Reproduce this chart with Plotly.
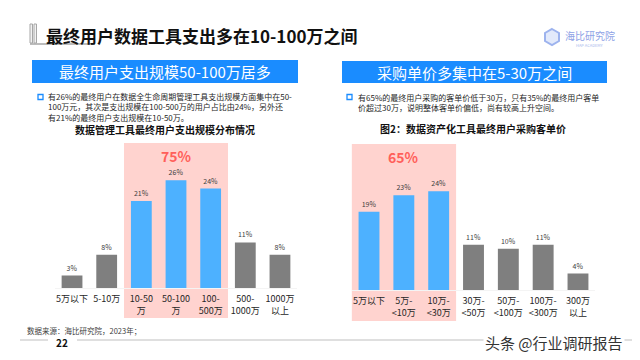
import plotly.graph_objects as go

# ---------------- data ----------------
left_cats = ["5万以下", "5-10万", "10-50<br>万", "50-100<br>万", "100-<br>500万", "500-<br>1000万", "1000万<br>以上"]
left_vals = [3, 8, 21, 26, 24, 11, 8]
left_highlight = [2, 3, 4]
left_total_label = "75%"

right_cats = ["5万以下", "5万-<br>&lt;10万", "10万-<br>&lt;30万", "30万-<br>&lt;50万", "50万-<br>&lt;100万", "100万-<br>&lt;300万", "300万<br>以上"]
right_vals = [19, 23, 24, 11, 10, 11, 4]
right_highlight = [0, 1, 2]
right_total_label = "65%"

title_text = "最终用户数据工具支出多在10-100万之间"
left_banner = "最终用户支出规模50-100万居多"
right_banner = "采购单价多集中在5-30万之间"
left_note = ("有26%的最终用户在数据全生命周期管理工具支出规模方面集中在50-<br>"
             "100万元，其次是支出规模在100-500万的用户占比由24%，另外还<br>"
             "有21%的最终用户支出规模在10-50万。")
right_note = ("有65%的最终用户采购的客单价低于30万，只有35%的最终用户客单<br>"
              "价超过30万，说明整体客单价偏低，尚有较高上升空间。")
left_sub = "数据管理工具最终用户支出规模分布情况"
right_sub = "图2：数据资产化工具最终用户采购客单价"
source_text = "数据来源：海比研究院，2023年；"
page_no = "22"
watermark = "头条 @行业调研报告"

# ---------------- style ----------------
# the page body keeps an 8px default margin, so the figure is sized to fit inside the window
OFF = 8
W, H = 640 - 2 * OFF, 360 - 2 * OFF
FONT = "Noto Sans CJK SC"
BLUE_BAR = "#4DB1FF"
GRAY_BAR = "#7F7F7F"
PINK = "#FFD3CF"
RED = "#FF5F5A"
BANNER = "#1A8CFF"


def px(x):
    return (x - OFF) / W


def py(y):
    return 1 - (y - OFF) / H


fig = go.Figure()

fig.add_trace(go.Bar(
    x=left_cats, y=left_vals,
    marker=dict(color=[BLUE_BAR if i in left_highlight else GRAY_BAR for i in range(len(left_vals))],
                line=dict(width=0)),
    width=0.6,
    text=[f"{v}%" for v in left_vals], textposition="outside",
    textfont=dict(size=7, color="#404040", family=FONT),
    cliponaxis=False, xaxis="x", yaxis="y", hoverinfo="skip",
))
fig.add_trace(go.Bar(
    x=right_cats, y=right_vals,
    marker=dict(color=[BLUE_BAR if i in right_highlight else GRAY_BAR for i in range(len(right_vals))],
                line=dict(width=0)),
    width=0.6,
    text=[f"{v}%" for v in right_vals], textposition="outside",
    textfont=dict(size=7, color="#404040", family=FONT),
    cliponaxis=False, xaxis="x2", yaxis="y2", hoverinfo="skip",
))

axis_common = dict(showgrid=False, zeroline=False, ticks="", fixedrange=True)
xcommon = dict(axis_common, type="category", showline=True, linecolor="#F4F4F4", linewidth=1,
               tickfont=dict(size=9, color="#262626", family=FONT), ticklabelstandoff=2)

shapes = []
annotations = []

# title decoration
shapes += [
    dict(type="rect", xref="paper", yref="paper", x0=px(30), x1=px(32.5), y0=py(43), y1=py(24),
         line=dict(color="#A6A6A6", width=1), fillcolor="#F2F2F2"),
    dict(type="rect", xref="paper", yref="paper", x0=px(34), x1=px(36.5), y0=py(43), y1=py(24),
         line=dict(color="#A6A6A6", width=1), fillcolor="#F2F2F2"),
    dict(type="line", xref="paper", yref="paper", x0=px(30), x1=px(95), y0=py(44), y1=py(44),
         line=dict(color="#A6A6A6", width=1.5)),
]
annotations.append(dict(text=f"<b>{title_text}</b>", xref="paper", yref="paper", x=px(44), y=py(35),
                        xanchor="left", yanchor="middle", showarrow=False,
                        font=dict(size=17, color="#111111", family=FONT)))

# logo
shapes.append(dict(type="path", xref="paper", yref="paper",
                   path=f"M {px(552)} {py(29)} L {px(559)} {py(33)} L {px(559)} {py(41)} L {px(552)} {py(45)} "
                        f"L {px(545)} {py(41)} L {px(545)} {py(33)} Z",
                   line=dict(color="#9DB3EE", width=2), fillcolor="#E3EAFB"))
annotations.append(dict(text="海比研究院", xref="paper", yref="paper", x=px(590), y=py(35),
                        xanchor="center", yanchor="middle", showarrow=False,
                        font=dict(size=10, color="#8EA2E6", family=FONT)))
annotations.append(dict(text="HAP ACADEMY", xref="paper", yref="paper", x=px(590), y=py(45),
                        xanchor="center", yanchor="middle", showarrow=False,
                        font=dict(size=4, color="#A9B8EC", family=FONT)))

# banners
for (x0, x1, y0, y1, txt) in [(32, 298, 60, 83, left_banner), (342, 607, 61, 83, right_banner)]:
    shapes.append(dict(type="rect", xref="paper", yref="paper", x0=px(x0), x1=px(x1), y0=py(y1), y1=py(y0),
                       line=dict(width=0), fillcolor=BANNER))
    annotations.append(dict(text=txt, xref="paper", yref="paper", x=px((x0 + x1) / 2), y=py((y0 + y1) / 2),
                            xanchor="center", yanchor="middle", showarrow=False,
                            font=dict(size=15, color="white", family=FONT)))

# bullets + notes
for (bx, tx, note, yc) in [(38, 46, left_note, 107), (347, 356, right_note, 102)]:
    shapes.append(dict(type="rect", xref="paper", yref="paper", x0=px(bx), x1=px(bx + 5), y0=py(99.5), y1=py(94.5),
                       line=dict(color=BANNER, width=1.3), fillcolor="white"))
    annotations.append(dict(text=note, xref="paper", yref="paper", x=px(tx), y=py(yc),
                            xanchor="left", yanchor="middle", align="left", showarrow=False,
                            font=dict(size=8, color="#262626", family=FONT)))

# chart subtitles
annotations.append(dict(text=f"<b>{left_sub}</b>", xref="paper", yref="paper", x=px(165), y=py(130),
                        xanchor="center", yanchor="middle", showarrow=False,
                        font=dict(size=10, color="#111111", family=FONT)))
annotations.append(dict(text=f"<b>{right_sub}</b>", xref="paper", yref="paper", x=px(473), y=py(129),
                        xanchor="center", yanchor="middle", showarrow=False,
                        font=dict(size=10, color="#111111", family=FONT)))

# highlight rectangles
shapes.append(dict(type="rect", xref="x", yref="paper", x0=min(left_highlight) - 0.5, x1=max(left_highlight) + 0.5,
                   y0=py(318), y1=py(143), line=dict(width=0), fillcolor=PINK, layer="below"))
shapes.append(dict(type="rect", xref="x2", yref="paper", x0=min(right_highlight) - 0.5, x1=max(right_highlight) + 0.5,
                   y0=py(321), y1=py(144), line=dict(width=0), fillcolor=PINK, layer="below"))
annotations.append(dict(text=f"<b>{left_total_label}</b>", xref="x", yref="paper",
                        x=(min(left_highlight) + max(left_highlight)) / 2, y=py(156),
                        xanchor="center", yanchor="middle", showarrow=False,
                        font=dict(size=14, color=RED, family=FONT)))
annotations.append(dict(text=f"<b>{right_total_label}</b>", xref="x2", yref="paper",
                        x=(min(right_highlight) + max(right_highlight)) / 2, y=py(157),
                        xanchor="center", yanchor="middle", showarrow=False,
                        font=dict(size=14, color=RED, family=FONT)))

# footer
annotations.append(dict(text=source_text, xref="paper", yref="paper", x=px(25), y=py(330),
                        xanchor="left", yanchor="middle", showarrow=False,
                        font=dict(size=7.5, color="#404040", family=FONT)))
annotations.append(dict(text=f"<b>{page_no}</b>", xref="paper", yref="paper", x=px(62), y=py(342),
                        xanchor="center", yanchor="middle", showarrow=False,
                        font=dict(size=10, color="#111111", family=FONT)))
shapes += [
    dict(type="line", xref="paper", yref="paper", x0=px(20), x1=px(48), y0=py(340), y1=py(340),
         line=dict(color="#BFBFBF", width=1)),
    dict(type="line", xref="paper", yref="paper", x0=px(77), x1=px(632), y0=py(340), y1=py(340),
         line=dict(color="#BFBFBF", width=1)),
]
annotations.append(dict(text=watermark, xref="paper", yref="paper", x=px(554), y=py(342),
                        xanchor="center", yanchor="middle", showarrow=False, bgcolor="white",
                        font=dict(size=15, color="#333333", family=FONT)))

fig.update_layout(
    width=W, height=H,
    margin=dict(l=0, r=0, t=0, b=0),
    paper_bgcolor="white", plot_bgcolor="rgba(0,0,0,0)",
    showlegend=False,
    bargap=0.4,
    xaxis=dict(xcommon, domain=[px(54.7), px(297.3)], anchor="y"),
    yaxis=dict(axis_common, domain=[py(288), py(143)], range=[0, 35], showticklabels=False, anchor="x"),
    xaxis2=dict(xcommon, domain=[px(351.6), px(595.4)], anchor="y2"),
    yaxis2=dict(axis_common, domain=[py(290), py(146.5)], range=[0, 35 * 143.5 / 144], showticklabels=False, anchor="x2"),
    shapes=shapes,
    annotations=annotations,
    font=dict(family=FONT),
)

fig.write_html("out.html")
